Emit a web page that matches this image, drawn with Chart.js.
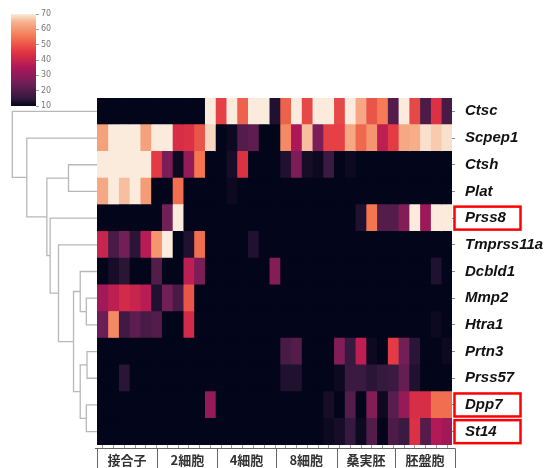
<!DOCTYPE html>
<html>
<head>
<meta charset="utf-8">
<script src="https://cdn.jsdelivr.net/npm/chart.js@4"></script>
<style>
    body { margin: 0; background: #fff; width: 549px; height: 468px; position: relative; overflow: hidden; }
    canvas { position: absolute; left: 0; top: 0; }
</style>
</head>
<body>
<canvas id="heat" width="549" height="468"></canvas>
<canvas id="dendro" width="97" height="468"></canvas>
<canvas id="cbar" width="80" height="120"></canvas>
<script>
const genes = ['Ctsc', 'Scpep1', 'Ctsh', 'Plat', 'Prss8', 'Tmprss11a', 'Dcbld1', 'Mmp2', 'Htra1', 'Prtn3', 'Prss57', 'Dpp7', 'St14'];
const highlighted = ['Prss8', 'Dpp7', 'St14'];
const stages = ['接合子', '2細胞', '4細胞', '8細胞', '桑実胚', '胚盤胞'];
// stage borders, in column units
const stageEdges = [0, 5.6, 11.2, 16.6, 22.3, 27.7, 33.3];
const colorbarTicks = [10, 20, 30, 40, 50, 60, 70];

// one row per gene, 33 samples each
const ctsc      = [10,10,10,10,10,10,10,10,10,10,70,47,70,52,70,70,13,52,70,48,70,70,48,70,63,50,56,20,70,48,19,44,18];
const scpep1    = [62,70,70,70,62,70,70,43,44,50,68,10,11,20,22,10,10,58,35,66,27,47,47,63,53,60,38,46,63,64,69,67,69];
const ctsh      = [70,70,70,70,70,46,27,11,31,55,10,10,12,44,10,10,10,13,27,12,11,16,10,11,10,10,10,10,10,10,10,10,10];
const plat      = [63,70,66,70,61,10,10,54,10,10,10,10,11,10,10,10,10,10,10,10,10,10,10,10,10,10,10,10,10,10,10,10,10];
const prss8     = [10,10,10,10,10,10,25,70,10,10,10,10,10,10,10,10,10,10,10,10,10,10,10,10,13,55,20,20,28,70,32,70,70];
const tmprss11a = [40,18,25,14,37,60,70,10,13,54,10,10,10,10,13,10,10,10,10,10,10,10,10,10,10,10,10,10,10,10,10,10,10];
const dcbld1    = [10,12,14,10,10,20,10,10,38,27,10,10,10,10,10,10,28,10,10,10,10,10,10,10,10,10,10,10,10,10,10,13,10];
const mmp2      = [33,38,42,40,37,13,25,18,50,10,10,10,10,10,10,10,10,10,10,10,10,10,10,10,10,10,10,10,10,10,10,10,10];
const htra1     = [24,58,17,22,18,20,10,10,42,10,10,10,10,10,10,10,10,10,10,10,10,10,10,10,10,10,10,10,10,10,10,11,10];
const prtn3     = [10,10,10,10,10,10,10,10,10,10,10,10,10,10,10,10,10,18,20,10,10,10,28,15,38,11,10,46,25,14,10,10,11];
const prss57    = [10,10,14,10,10,10,10,10,10,10,10,10,10,10,10,10,10,13,13,10,10,10,11,16,16,14,15,16,23,13,10,10,10];
const dpp7      = [10,10,10,10,10,10,10,10,10,10,31,10,10,10,10,10,10,10,10,10,10,12,10,20,10,28,11,21,31,43,43,54,54];
const st14      = [10,10,10,10,10,10,10,10,10,10,10,10,10,10,10,10,10,10,10,10,10,11,12,15,11,20,10,19,16,44,20,36,33];
const matrix = [ctsc, scpep1, ctsh, plat, prss8, tmprss11a, dcbld1, mmp2, htra1, prtn3, prss57, dpp7, st14];

// row clustering: [left node, right node, distance]; new nodes numbered from 13
const linkage = [
    [7, 8, 0.110], [9, 10, 0.103], [11, 12, 0.110],
    [6, 13, 0.173], [14, 15, 0.173], [16, 17, 0.242],
    [5, 18, 0.397], [4, 19, 0.483], [2, 3, 0.294],
    [21, 20, 0.517], [1, 22, 0.724], [0, 23, 0.873]
];

const rocketStops = [
    [0, '#03051a'], [0.0833, '#35193e'], [0.25, '#701f57'], [0.4167, '#ad1759'],
    [0.5833, '#e13342'], [0.75, '#f37651'], [0.9167, '#f6b48f'], [1, '#faebdd']
];

function hexRgb(h) {
    return [1, 3, 5].map(i => parseInt(h.slice(i, i + 2), 16));
}

function rocket(v) {
    const t = Math.max(0, Math.min(1, (v - 10) / 60));
    for (let i = 1; i < rocketStops.length; i++) {
        const [t1, c1] = rocketStops[i];
        const [t0, c0] = rocketStops[i - 1];
        if (t <= t1) {
            const f = (t - t0) / (t1 - t0);
            const a = hexRgb(c0), b = hexRgb(c1);
            const rgb = a.map((x, k) => Math.round(x + (b[k] - x) * f));
            return `rgb(${rgb.join(',')})`;
        }
    }
    return rocketStops[rocketStops.length - 1][1];
}

// ---- heatmap ----
const heatExtras = {
    id: 'heatExtras',
    afterDraw(chart) {
        const { ctx, chartArea, scales } = chart;
        const x = scales.x, y = scales.y;
        ctx.save();
        // column ticks
        ctx.strokeStyle = '#999';
        ctx.lineWidth = 1;
        matrix[0].forEach((_, c) => {
            const px = Math.round(x.getPixelForValue(c + 0.5)) + 0.5;
            ctx.beginPath();
            ctx.moveTo(px, chartArea.bottom);
            ctx.lineTo(px, chartArea.bottom + 3);
            ctx.stroke();
        });
        // stage table
        const top = chartArea.bottom + 3.5;
        ctx.strokeStyle = '#666';
        ctx.beginPath();
        ctx.moveTo(x.getPixelForValue(stageEdges[0]) - 2, top);
        ctx.lineTo(x.getPixelForValue(stageEdges[stageEdges.length - 1]), top);
        stageEdges.forEach(e => {
            const px = Math.round(x.getPixelForValue(e)) + 0.5;
            ctx.moveTo(px, top);
            ctx.lineTo(px, chart.height);
        });
        ctx.stroke();
        ctx.fillStyle = '#333';
        ctx.font = 'bold 13px "Noto Sans CJK JP"';
        ctx.textAlign = 'center';
        ctx.textBaseline = 'middle';
        stages.forEach((s, i) => {
            const cx = (x.getPixelForValue(stageEdges[i]) + x.getPixelForValue(stageEdges[i + 1])) / 2;
            ctx.fillText(s, cx, top + 12);
        });
        // red boxes round the marked genes
        ctx.strokeStyle = '#ff0000';
        ctx.lineWidth = 2.5;
        highlighted.forEach(g => {
            const cy = y.getPixelForValue(genes.indexOf(g));
            ctx.strokeRect(chartArea.right + 2.5, cy - 11.5, 66, 23);
        });
        ctx.restore();
    }
};

// each column's bar starts at 0 so the column drawn on top covers the one below it
// (datasets are painted last-to-first), which avoids white seams between cells
new Chart(document.getElementById('heat'), {
    type: 'bar',
    data: {
        labels: genes,
        datasets: matrix[0].map((_, c) => ({
            data: genes.map(() => [0, c + 1]),
            backgroundColor: matrix.map(row => rocket(row[c])),
            barPercentage: 1,
            categoryPercentage: 1,
            grouped: false,
            borderWidth: 0,
            inflateAmount: 0.4
        }))
    },
    options: {
        indexAxis: 'y',
        responsive: false,
        animation: false,
        layout: { padding: { top: 98, bottom: 23, left: 97, right: 0 } },
        plugins: { legend: { display: false }, tooltip: { enabled: false } },
        scales: {
            x: { type: 'linear', min: 0, max: 33, display: false },
            y: {
                position: 'right',
                border: { display: false },
                grid: { drawOnChartArea: false, offset: false, tickLength: 3, color: '#888' },
                ticks: {
                    padding: 10,
                    color: '#111',
                    font: { family: 'Liberation Sans', size: 15, style: 'italic', weight: 'bold' }
                },
                afterFit(scale) { scale.width = 97; }
            }
        }
    },
    plugins: [heatExtras]
});

// ---- dendrogram ----
const nodeY = genes.map((_, r) => r + 0.5);
const nodeH = genes.map(() => 0);
const dendroSets = linkage.map(([a, b, h]) => {
    nodeY.push((nodeY[a] + nodeY[b]) / 2);
    nodeH.push(h);
    return {
        data: [
            { x: nodeH[a], y: nodeY[a] }, { x: h, y: nodeY[a] },
            { x: h, y: nodeY[b] }, { x: nodeH[b], y: nodeY[b] }
        ],
        showLine: true,
        borderColor: '#b8b8b8',
        borderWidth: 1.3,
        pointRadius: 0,
        clip: false
    };
});

new Chart(document.getElementById('dendro'), {
    type: 'scatter',
    data: { datasets: dendroSets },
    options: {
        responsive: false,
        animation: false,
        layout: { padding: { top: 98, bottom: 23, left: 0, right: 0 } },
        plugins: { legend: { display: false }, tooltip: { enabled: false } },
        scales: {
            x: { min: 0, max: 1, reverse: true, display: false },
            y: { min: 0, max: genes.length, reverse: true, display: false }
        }
    }
});

// ---- colour bar ----
const gradientFill = {
    id: 'gradientFill',
    beforeDatasetsDraw(chart) {
        const { ctx, chartArea, scales } = chart;
        const y0 = scales.y.getPixelForValue(10), y1 = scales.y.getPixelForValue(70);
        const g = ctx.createLinearGradient(0, y0, 0, y1);
        rocketStops.forEach(([t, c]) => g.addColorStop(t, c));
        ctx.save();
        ctx.fillStyle = g;
        ctx.fillRect(chartArea.left, y1, chartArea.right - chartArea.left, y0 - y1);
        ctx.restore();
    }
};

new Chart(document.getElementById('cbar'), {
    type: 'scatter',
    data: { datasets: [] },
    options: {
        responsive: false,
        animation: false,
        layout: { padding: { top: 14, bottom: 14, left: 11, right: 0 } },
        plugins: { legend: { display: false }, tooltip: { enabled: false } },
        scales: {
            x: { min: 0, max: 1, display: false },
            y: {
                position: 'right',
                min: 10,
                max: 70,
                border: { display: false },
                grid: { drawOnChartArea: false, tickLength: 3, color: '#999' },
                ticks: { padding: 2, color: '#777', font: { family: 'DejaVu Sans', size: 8 } },
                afterBuildTicks(scale) { scale.ticks = colorbarTicks.map(v => ({ value: v })); },
                afterFit(scale) { scale.width = 44; }
            }
        }
    },
    plugins: [gradientFill]
});
</script>
</body>
</html>
